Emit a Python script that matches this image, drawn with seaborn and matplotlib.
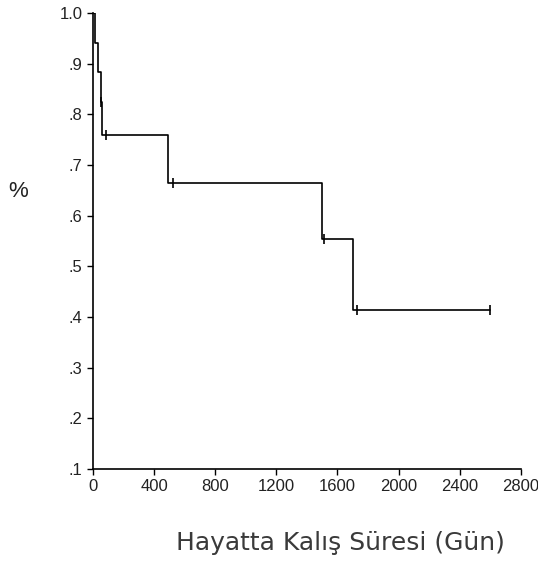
import numpy as np
import pandas as pd
import seaborn as sns
import matplotlib.pyplot as plt

# Kaplan-Meier step points (days, survival)
step_days = [0, 10, 30, 52, 60, 490, 1500, 1704, 2600]
step_surv = [1.0, 0.941, 0.883, 0.825, 0.76, 0.665, 0.554, 0.414, 0.414]

# censored observations (small vertical ticks)
cens_days = [50, 83, 520, 1514, 1730, 2600]
cens_surv = [0.825, 0.76, 0.665, 0.554, 0.414, 0.414]

x_ticks = [0, 400, 800, 1200, 1600, 2000, 2400, 2800]
y_ticks = [0.1, 0.2, 0.3, 0.4, 0.5, 0.6, 0.7, 0.8, 0.9, 1.0]
y_tick_labels = ['.1', '.2', '.3', '.4', '.5', '.6', '.7', '.8', '.9', '1.0']

sns.set_style('ticks')
plt.rcParams['font.family'] = ['Liberation Sans', 'DejaVu Sans']

steps = pd.DataFrame({'gun': step_days, 'surv': step_surv})
cens = pd.DataFrame({'gun': cens_days, 'surv': cens_surv})

fig = plt.figure(figsize=(5.38, 5.63), dpi=100)
ax = fig.add_axes([0.173, 0.167, 0.795, 0.810])

sns.lineplot(data=steps, x='gun', y='surv', ax=ax, color='black',
             linewidth=1.2, drawstyle='steps-post', estimator=None, sort=False)
sns.scatterplot(data=cens, x='gun', y='surv', ax=ax, marker='|', s=45,
                color='black', linewidth=1.2)

ax.set_xlim(0, 2800)
ax.set_ylim(0.1, 1.0)
ax.set_xticks(x_ticks)
ax.set_xticklabels([str(t) for t in x_ticks])
ax.set_yticks(y_ticks)
ax.set_yticklabels(y_tick_labels)
ax.tick_params(labelsize=12, length=4, width=1, colors='black', labelcolor='#222222')
for s in ['left', 'bottom']:
    ax.spines[s].set_linewidth(1.2)
    ax.spines[s].set_color('black')
sns.despine(ax=ax)

ax.set_xlabel('Hayatta Kalış Süresi (Gün)', fontsize=18,
              family=['DejaVu Sans'], color='#3a3a3a')
ax.xaxis.set_label_coords(0.578, -0.137)
ax.set_ylabel('%', fontsize=16, rotation=0, color='#222222')
ax.yaxis.set_label_coords(-0.175, 0.585)

fig.savefig('out.png', dpi=100)
